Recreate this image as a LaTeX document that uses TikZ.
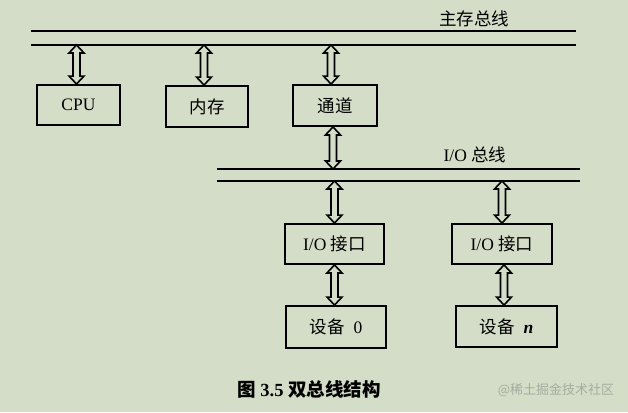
\documentclass[tikz,border=0pt]{standalone}
\usepackage{fontspec}
\setmainfont{Liberation Serif}
\newfontfamily\cjk{Noto Sans CJK SC}
\usetikzlibrary{calc}
\definecolor{bgc}{RGB}{212,221,199}
\definecolor{wm}{RGB}{165,172,160}
\begin{document}
\begin{tikzpicture}[x=1pt,y=-1pt,
  boxn/.style={draw,line width=1.9pt,inner sep=0pt,font=\fontsize{17.5}{17.5}\selectfont},
  busline/.style={line width=1.9pt},
  lbl/.style={inner sep=0pt,font=\fontsize{17.5}{17.5}\selectfont},
  dbl/.style={line width=1.6pt,fill=bgc,line join=miter,
    to path={let \p1=(\tikztostart),\p2=(\tikztotarget) in
      -- (\x1+7.5pt,\y1-8pt) -- (\x1+3.5pt,\y1-8pt) -- (\x1+3.5pt,\y2+8pt)
      -- (\x1+7.5pt,\y2+8pt) -- (\x1,\y2) -- (\x1-7.5pt,\y2+8pt)
      -- (\x1-3.5pt,\y2+8pt) -- (\x1-3.5pt,\y1-8pt) -- (\x1-7.5pt,\y1-8pt) -- cycle}}]
\fill[bgc] (0,0) rectangle (628,412);
\useasboundingbox (0,0) rectangle (628,412);

% main bus
\coordinate (m1L) at (31,31); \coordinate (m1R) at (576,31);
\coordinate (m2L) at (31,45); \coordinate (m2R) at (576,45);
\draw[busline] (m1L) -- (m1R);
\draw[busline] (m2L) -- (m2R);
\node[lbl] (mlab) at (474,19) {\cjk 主存总线};

% I/O bus
\coordinate (i1L) at (217,169); \coordinate (i1R) at (580,169);
\coordinate (i2L) at (217,181); \coordinate (i2R) at (580,181);
\draw[busline] (i1L) -- (i1R);
\draw[busline] (i2L) -- (i2R);
\node[lbl] (ilab) at (475,155) {I/O\ {\cjk 总线}};

% boxes
\node[boxn,minimum width=83pt,minimum height=40pt] (cpu) at (78.5,105) {CPU};
\node[boxn,minimum width=82pt,minimum height=41pt] (mem) at (207,106.5) {\cjk 内存};
\node[boxn,minimum width=84pt,minimum height=41pt] (chan) at (335,105.5) {\cjk 通道};
\node[boxn,minimum width=99pt,minimum height=40pt] (io1) at (334.5,244) {I/O\ {\cjk 接口}};
\node[boxn,minimum width=100pt,minimum height=40pt] (io2) at (502,244) {I/O\ {\cjk 接口}};
\node[boxn,minimum width=100pt,minimum height=42pt] (dev0) at (336,327) {{\cjk 设备}\enspace0};
\node[boxn,minimum width=101pt,minimum height=41pt] (devn) at (506.5,326.5) {{\cjk 设备}\enspace\textbf{\textit{n}}};

% arrows
\draw[dbl] ([xshift=-2pt]cpu.north |- m2L) to ([xshift=-2pt]cpu.north);
\draw[dbl] ([xshift=-3pt]mem.north |- m2L) to ([xshift=-3pt]mem.north);
\draw[dbl] ([xshift=-4pt]chan.north |- m2L) to ([xshift=-4pt]chan.north);
\draw[dbl] ([xshift=-2pt]chan.south) to ([xshift=-2pt]chan.south |- i1L);
\draw[dbl] (io1.north |- i2L) to (io1.north);
\draw[dbl] (io2.north |- i2L) to (io2.north);
\draw[dbl] (io1.south) to (io1.south |- dev0.north);
\draw[dbl] ([xshift=2pt]io2.south) to ([xshift=2pt]io2.south |- devn.north);

% caption and watermark
\node[inner sep=0pt,font=\fontsize{18.5}{18.5}\selectfont\bfseries] (cap) at (309,389) {{\cjk\bfseries 图}\ 3.5\ {\cjk\bfseries 双总线结构}};
\node[inner sep=0pt,text=wm,font=\fontsize{13}{13}\selectfont] (wmk) at (556,390) {{\cjk @稀土掘金技术社区}};
\end{tikzpicture}
\end{document}
